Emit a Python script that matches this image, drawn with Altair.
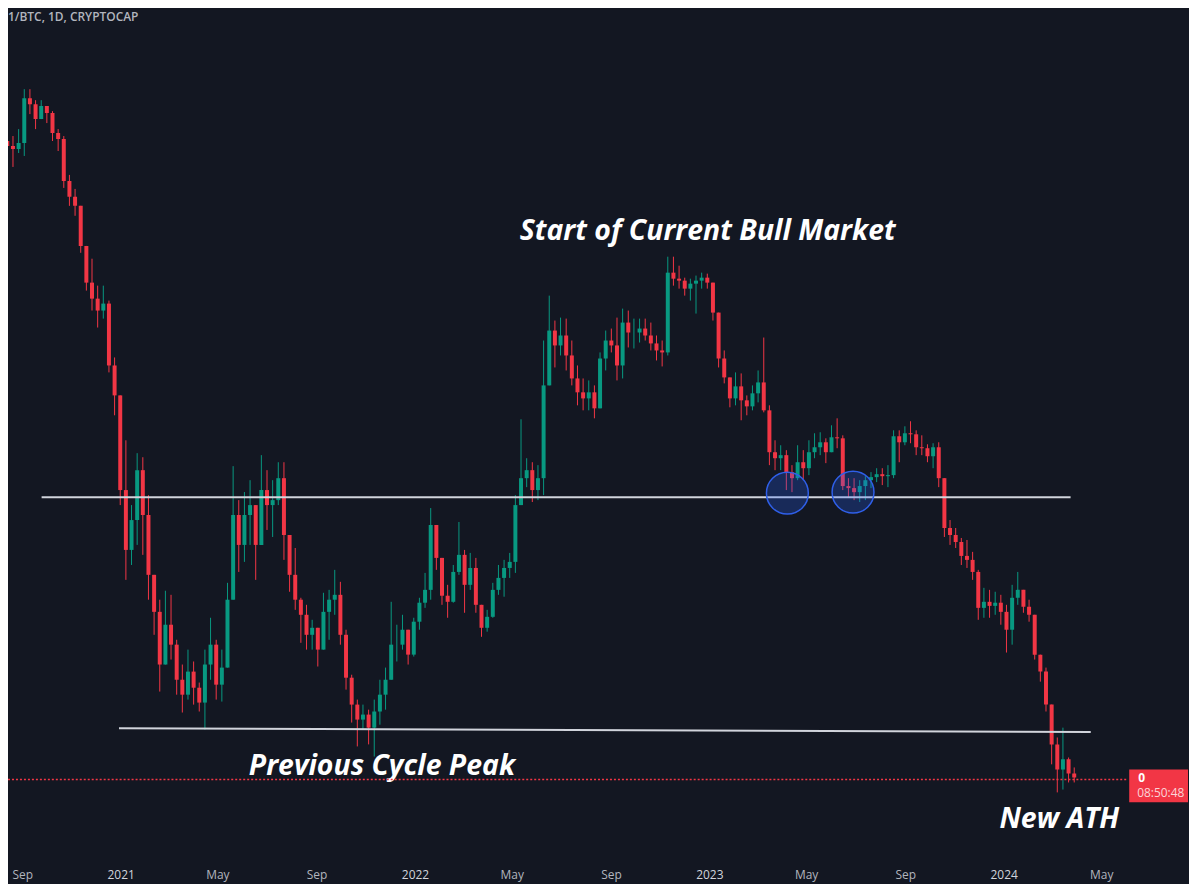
import altair as alt
import pandas as pd

# ---- 1/BTC weekly candles (value in satoshis per USD) ----
first_open = 8709
closes = [
    8586, 8512, 8660, 9844, 9678, 9272, 9623, 9433, 8910, 8758,
    7771, 7424, 7236, 6453, 5810, 5550, 5364, 5472, 4585, 4209,
    3211, 2706, 2947, 3399, 2990, 2520, 2267, 1950, 2185, 2064,
    1867, 1789, 1911, 1825, 1749, 1950, 2064, 1841, 1933, 2347,
    2990, 2745, 2990, 3076, 2745, 3211, 3076, 3120, 3322, 2824,
    2520, 2347, 2248, 2123, 2166, 2035, 2267, 2347, 2380, 2123,
    1878, 1739, 1666, 1690, 1628, 1705, 1789, 1867, 2064, 2064,
    2154, 2006, 2204, 2327, 2414, 2906, 2645, 2374, 2333, 2541,
    2668, 2449, 2570, 2313, 2166, 2235, 2414, 2498, 2570, 2615,
    3076, 3322, 3399, 3211, 3322, 4331, 5066, 4855, 4995, 4718,
    4418, 4246, 4173, 4246, 4056, 4677, 4924, 4855, 4585, 5183,
    5038, 5038, 5095, 4995, 4883, 4786, 4759, 5978, 5876, 5843,
    5711, 5793, 5843, 5893, 5810, 5333, 4677, 4431, 4173, 4319,
    4150, 4079, 4234, 4368, 4033, 3578, 3517, 3548, 3380, 3322,
    3477, 3418, 3578, 3629, 3681, 3578, 3734, 3723, 3248, 3229,
    3192, 3248, 3303, 3332, 3360, 3341, 3351, 3745, 3681, 3777,
    3766, 3629, 3619, 3537, 3629, 3322, 2881, 2824, 2768, 2660,
    2630, 2541, 2293, 2333, 2306, 2327, 2267, 2154, 2360, 2414,
    2300, 2248, 2006, 1911, 1739, 1552, 1445, 1487, 1428, 1412,
]
highs = [
    9011, 8834, 9011, 10100, 10100, 9788, 9788, 9513, 9486, 9011,
    8834, 7905, 7595, 7093, 6401, 6221, 5760, 5760, 5519, 4691,
    3920, 3702, 3076, 3568, 3527, 3165, 2484, 2347, 2408, 2380,
    2093, 1950, 2035, 1967, 1852, 2035, 2229, 2093, 2035, 2463,
    3438, 3120, 3193, 3303, 3033, 3548, 3399, 3303, 3477, 3477,
    2784, 2721, 2360, 2313, 2216, 2154, 2394, 2414, 2556, 2470,
    2154, 1894, 1764, 1739, 1714, 1764, 1867, 1933, 2333, 2185,
    2248, 2154, 2229, 2360, 2534, 3050, 2906, 2630, 2449, 2592,
    2931, 2706, 2683, 2645, 2313, 2280, 2463, 2592, 2630, 2683,
    3165, 3931, 3517, 3477, 3448, 4924, 5598, 5213, 5257, 5242,
    4924, 4585, 4418, 4393, 4331, 4759, 5066, 5095, 5257, 5394,
    5364, 5242, 5242, 5242, 5183, 4995, 4924, 6257, 6257, 6098,
    5893, 5876, 5928, 5978, 5961, 5810, 5242, 4786, 4418, 4495,
    4482, 4209, 4331, 4520, 4966, 4091, 3702, 3650, 3599, 3448,
    3650, 3599, 3702, 3777, 3788, 3723, 3864, 3942, 3755, 3322,
    3322, 3303, 3341, 3380, 3418, 3418, 3448, 3809, 3809, 3853,
    3909, 3809, 3755, 3660, 3671, 3681, 3303, 2947, 2881, 2800,
    2784, 2691, 2556, 2428, 2414, 2401, 2380, 2313, 2449, 2541,
    2380, 2347, 2185, 1989, 1933, 1690, 1583, 1628, 1495, 1453,
]
lows = [
    8087, 8087, 8416, 8345, 9406, 9011, 9272, 9168, 8709, 8464,
    7617, 7236, 7033, 6327, 5679, 5364, 5110, 5242, 4495, 3976,
    3076, 2484, 2592, 2745, 2668, 2347, 2123, 1805, 1978, 1978,
    1789, 1700, 1764, 1739, 1705, 1619, 1867, 1764, 1754, 1978,
    2347, 2541, 2615, 2745, 2484, 2824, 2865, 2808, 3076, 2630,
    2401, 2280, 2075, 2035, 2035, 1939, 2093, 2093, 2248, 2064,
    1815, 1652, 1543, 1619, 1552, 1499, 1642, 1714, 1867, 1967,
    2035, 1950, 1995, 2154, 2293, 2347, 2556, 2313, 2229, 2327,
    2520, 2261, 2414, 2261, 2111, 2142, 2229, 2380, 2367, 2498,
    2534, 3120, 3238, 3103, 3120, 3165, 4520, 4559, 4718, 4520,
    4331, 4091, 4033, 4033, 3942, 4209, 4520, 4759, 4393, 4418,
    4827, 4813, 4896, 4924, 4786, 4651, 4572, 4718, 5760, 5711,
    5598, 5519, 5318, 5711, 5711, 5213, 4559, 4356, 4068, 4091,
    3920, 3976, 4033, 4126, 4010, 3448, 3399, 3399, 3211, 3192,
    3303, 3303, 3351, 3517, 3548, 3468, 3578, 3619, 3211, 3147,
    3120, 3103, 3120, 3229, 3285, 3257, 3238, 3322, 3477, 3650,
    3671, 3548, 3548, 3477, 3418, 3238, 2808, 2745, 2721, 2592,
    2570, 2484, 2216, 2229, 2229, 2248, 2185, 2018, 2064, 2313,
    2261, 2204, 1978, 1857, 1705, 1466, 1353, 1364, 1392, 1392,
]
candle_dates = pd.date_range("2020-08-13 12:00", periods=len(closes), freq="7D")
opens = [first_open] + closes[:-1]

# ---- horizontal levels ----
level_start = ["2020-09-25", "2020-12-30"]
level_end = ["2024-03-24", "2024-04-18"]
level_from = [3145, 1625]
level_to = [3145, 1608]

# ---- highlighted retests ----
circle_dates = ["2023-04-07T19:00:00", "2023-06-28T05:00:00"]
circle_values = [3183, 3192]

# ---- annotations ----
note_texts = ["Start of Current Bull Market", "Previous Cycle Peak", "New ATH"]
note_dates = ["2022-12-30T00:00:00", "2021-11-21T00:00:00", "2024-03-10T00:00:00"]
note_values = [6738, 1457, 1253]

header_text = "1/BTC, 1D, CRYPTOCAP"
price_text = "0"
timer_text = "08:50:48"
current_price = 1404

tick_months = [(2020, 9), (2021, 1), (2021, 5), (2021, 9), (2022, 1), (2022, 5),
               (2022, 9), (2023, 1), (2023, 5), (2023, 9), (2024, 1), (2024, 5)]

# ---- tables ----
candles = pd.DataFrame({"date": candle_dates, "open": opens, "high": highs,
                        "low": lows, "close": closes})
levels = pd.DataFrame({"start": level_start, "end": level_end,
                       "y_from": level_from, "y_to": level_to})
circles = pd.DataFrame({"date": circle_dates, "value": circle_values})
notes = pd.DataFrame({"date": note_dates, "value": note_values, "text": note_texts})
last = pd.DataFrame({"price": [current_price], "l1": [price_text], "l2": [timer_text]})
header = pd.DataFrame({"t": [header_text]})

BG = "#131722"
UP = "#089981"
DOWN = "#F23645"

x_scale = alt.Scale(domain=[alt.DateTime(year=2020, month=8, date=20, hours=12),
                            alt.DateTime(year=2024, month=5, date=25, hours=19)])
y_scale = alt.Scale(type="log", domain=[1139, 12685], nice=False, zero=False)

x_axis = alt.Axis(
    values=[alt.DateTime(year=y, month=m, date=1) for y, m in tick_months],
    labelExpr="month(datum.value) == 0 ? timeFormat(datum.value, '%Y') : timeFormat(datum.value, '%b')",
    labelColor={"condition": {"test": "month(datum.value) == 0", "value": "#D1D4DC"},
                "value": "#B2B5BE"},
    labelFont="Open Sans", labelFontSize=12, labelPadding=17,
    labelFlush=False, labelOverlap=False,
    domain=False, ticks=False, grid=False, title=None,
)


def X(field):
    return alt.X(field, scale=x_scale, axis=x_axis)


def Y(field):
    return alt.Y(field, scale=y_scale, axis=None)


candle_color = alt.condition("datum.close >= datum.open", alt.value(UP), alt.value(DOWN))

wicks = alt.Chart(candles).transform_calculate(
    lo2="min(datum.low, datum.open, datum.close)",
    hi2="max(datum.high, datum.open, datum.close)",
).mark_rule(strokeWidth=1, clip=True).encode(
    x=X("date:T"), y=Y("lo2:Q"), y2="hi2:Q", color=candle_color
)

bodies = alt.Chart(candles).mark_bar(size=4, clip=True).encode(
    x=X("date:T"), y=Y("open:Q"), y2="close:Q", color=candle_color
)

level_lines = alt.Chart(levels).mark_rule(color="#D1D4DC", strokeWidth=2, clip=True).encode(
    x=X("start:T"), x2="end:T", y=Y("y_from:Q"), y2="y_to:Q"
)

circle_marks = alt.Chart(circles).mark_circle(
    size=1764, color="#2962FF", opacity=1, fillOpacity=0.25,
    stroke="#2F5FE8", strokeWidth=1.5, strokeOpacity=1
).encode(x=X("date:T"), y=Y("value:Q"))

note_marks = alt.Chart(notes).mark_text(
    font="Open Sans", fontSize=28.5, fontStyle="italic", fontWeight="bold",
    color="#FFFFFF", align="center", baseline="middle"
).encode(x=X("date:T"), y=Y("value:Q"), text="text:N")

price_line = alt.Chart(last).mark_rule(color=DOWN, strokeDash=[2, 2], strokeWidth=1.4).encode(
    y=Y("price:Q")
)

price_box = alt.Chart(last).mark_rect(color=DOWN, yOffset=-10, y2Offset=23).encode(
    x=alt.value(1125), x2=alt.value(1184), y=Y("price:Q"), y2="price:Q"
)

price_lbl = alt.Chart(last).mark_text(
    align="left", baseline="middle", font="Open Sans", fontSize=12,
    fontWeight="bold", color="#FFFFFF", dy=-1
).encode(x=alt.value(1134), y=Y("price:Q"), text="l1:N")

timer_lbl = alt.Chart(last).mark_text(
    align="left", baseline="middle", font="Open Sans", fontSize=12,
    color="#FBD3D7", dy=14
).encode(x=alt.value(1133), y=Y("price:Q"), text="l2:N")

header_lbl = alt.Chart(header).mark_text(
    align="left", baseline="middle", font="Open Sans", fontSize=12,
    fontWeight=600, color="#B2B5BE"
).encode(x=alt.value(0), y=alt.value(8), text="t:N")

chart = alt.layer(
    wicks, bodies, level_lines, circle_marks, note_marks,
    price_line, price_box, price_lbl, timer_lbl, header_lbl
).properties(
    width=1122, height=846, background=BG,
    padding={"left": 0, "top": 0, "right": 63, "bottom": 30},
    autosize=alt.AutoSizeParams(type="none"),
).configure_view(stroke=None)

chart.save("out.html", embed_options={"renderer": "svg", "actions": False})
